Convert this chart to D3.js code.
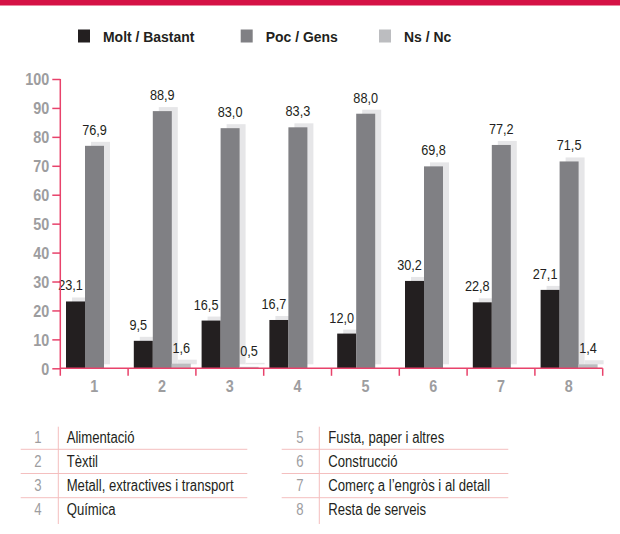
<!DOCTYPE html>
<html>
<head>
<meta charset="utf-8">
<script src="https://cdn.jsdelivr.net/npm/d3@7"></script>
<style>
  html, body { margin: 0; padding: 0; background: #fff; }
  svg { display: block; }
</style>
</head>
<body>
<svg id="chart" width="620" height="534"></svg>
<script>
// Sector codes along the x axis
const categories = ["1", "2", "3", "4", "5", "6", "7", "8"];

// Answer groups
const seriesNames = ["Molt / Bastant", "Poc / Gens", "Ns / Nc"];
const moltBastant = [23.1, 9.5, 16.5, 16.7, 12.0, 30.2, 22.8, 27.1];
const pocGens     = [76.9, 88.9, 83.0, 83.3, 88.0, 69.8, 77.2, 71.5];
const nsNc        = [0,    1.6,  0.5,  0,    0,    0,    0,    1.4];

// Y axis ticks
const yTicks = [0, 10, 20, 30, 40, 50, 60, 70, 80, 90, 100];

// Sector names for the key table
const sectorNames = [
  "Alimentació",
  "Tèxtil",
  "Metall, extractives i transport",
  "Química",
  "Fusta, paper i altres",
  "Construcció",
  "Comerç a l’engròs i al detall",
  "Resta de serveis"
];

const seriesValues = [moltBastant, pocGens, nsNc];
const colors = ["#231f20", "#808084", "#bcbdc0"];
const shadowColor = "#e6e6e8";
const axisColor = "#e8426b";
const tickTextColor = "#9d9d9f";
const font = "'Liberation Sans', Arial, Helvetica, sans-serif";
const narrow = 0.82;     // horizontal squeeze for condensed text
const boldNarrow = 0.9;  // lighter squeeze for the bold labels

const svg = d3.select("#chart");

// Top band
svg.append("rect").attr("x", 0).attr("y", 0).attr("width", 620).attr("height", 5.5)
  .attr("fill", "#d51245");

// Legend
const legendX = [78, 240.7, 379];
const legend = svg.append("g");
seriesNames.forEach((name, i) => {
  legend.append("rect").attr("x", legendX[i]).attr("y", 29.5)
    .attr("width", 12).attr("height", 13).attr("fill", colors[i]);
  legend.append("text")
    .attr("transform", `translate(${legendX[i] + 25},42) scale(${boldNarrow},1)`)
    .attr("font-family", font).attr("font-weight", "bold").attr("font-size", 15.5)
    .attr("fill", "#231f20").text(name);
});

// Scales
const x = d3.scaleBand().domain(categories).range([60.3, 602.7]).padding(0);
const inner = d3.scaleBand().domain(d3.range(seriesNames.length)).range([5.7, 5.7 + 57]).padding(0);
const y = d3.scaleLinear().domain([0, 100]).range([368.3, 79]);

const shadowDx = 6, shadowDy = -4;

// Bar data
const bars = [];
seriesValues.forEach((vals, s) => {
  vals.forEach((v, i) => bars.push({ s, cat: categories[i], v }));
});
const shown = bars.filter(d => d.v > 0);

// Shadows behind the bars
svg.append("g").selectAll("rect").data(shown).join("rect")
  .attr("x", d => x(d.cat) + inner(d.s) + shadowDx)
  .attr("y", d => y(d.v) + shadowDy)
  .attr("width", inner.bandwidth())
  .attr("height", d => y(0) - y(d.v))
  .attr("fill", shadowColor);

// Bars
svg.append("g").selectAll("rect").data(shown).join("rect")
  .attr("x", d => x(d.cat) + inner(d.s))
  .attr("y", d => y(d.v))
  .attr("width", inner.bandwidth())
  .attr("height", d => y(0) - y(d.v))
  .attr("fill", d => colors[d.s]);

// Value labels
const fmt = v => d3.format(".1f")(v).replace(".", ",");
svg.append("g").selectAll("text").data(shown).join("text")
  .attr("transform", d => {
    const lx = x(d.cat) + inner(d.s) + inner.bandwidth() / 2 + (d.s === 0 ? -5 : 0);
    return `translate(${lx},${y(d.v) - 11}) scale(${narrow},1)`;
  })
  .attr("text-anchor", "middle")
  .attr("font-family", font).attr("font-size", 15.5)
  .attr("fill", "#231f20")
  .text(d => fmt(d.v));

// Y axis
const yAxis = svg.append("g").attr("transform", `translate(${x.range()[0]},0)`)
  .call(d3.axisLeft(y).tickValues(yTicks).tickSize(8).tickPadding(3).tickFormat(d3.format("d")));
yAxis.select(".domain").remove();
yAxis.selectAll(".tick line").attr("stroke", axisColor).attr("stroke-width", 1.5);
yAxis.selectAll(".tick text")
  .attr("x", null)
  .attr("transform", `translate(-11,0) scale(${boldNarrow},1)`)
  .attr("font-family", font).attr("font-weight", "bold").attr("font-size", 16)
  .attr("fill", tickTextColor).attr("dy", "0.36em");
yAxis.append("line").attr("x1", 0).attr("x2", 0).attr("y1", y(100)).attr("y2", y(0) + 7.5)
  .attr("stroke", axisColor).attr("stroke-width", 1.5);

// X axis
const xAxis = svg.append("g");
xAxis.append("line").attr("x1", x.range()[0]).attr("x2", x.range()[1])
  .attr("y1", y(0)).attr("y2", y(0)).attr("stroke", axisColor).attr("stroke-width", 1.5);
const boundaries = categories.map(c => x(c)).concat([x.range()[1]]);
xAxis.selectAll("line.tk").data(boundaries.slice(1)).join("line").attr("class", "tk")
  .attr("x1", d => d).attr("x2", d => d).attr("y1", y(0)).attr("y2", y(0) + 7.5)
  .attr("stroke", axisColor).attr("stroke-width", 1.5);
xAxis.selectAll("text").data(categories).join("text")
  .attr("transform", d => `translate(${x(d) + x.bandwidth() / 2},391.7) scale(${boldNarrow},1)`)
  .attr("text-anchor", "middle")
  .attr("font-family", font).attr("font-weight", "bold").attr("font-size", 16)
  .attr("fill", tickTextColor).text(d => d);

// Key table
const tableLine = "#f4bfbf";
const columns = [
  { x0: 20.7, x1: 247.3, numX: 38, sepX: 58.3, textX: 66.7, items: [0, 1, 2, 3] },
  { x0: 281.7, x1: 508.3, numX: 300, sepX: 319.3, textX: 328.3, items: [4, 5, 6, 7] }
];
const rowH = 24.2, firstBase = 442.7, firstLine = 449.3;
const table = svg.append("g");
columns.forEach(col => {
  table.append("line").attr("x1", col.sepX).attr("x2", col.sepX)
    .attr("y1", 426.7).attr("y2", 524).attr("stroke", tableLine).attr("stroke-width", 1);
  col.items.forEach((idx, r) => {
    table.append("text")
      .attr("transform", `translate(${col.numX},${firstBase + r * rowH}) scale(${narrow},1)`)
      .attr("text-anchor", "middle").attr("font-family", font).attr("font-size", 16)
      .attr("fill", tickTextColor).text(categories[idx]);
    table.append("text")
      .attr("transform", `translate(${col.textX},${firstBase + r * rowH}) scale(${narrow},1)`)
      .attr("font-family", font).attr("font-size", 16)
      .attr("fill", "#231f20").text(sectorNames[idx]);
    if (r < col.items.length - 1) {
      table.append("line").attr("x1", col.x0).attr("x2", col.x1)
        .attr("y1", firstLine + r * rowH).attr("y2", firstLine + r * rowH)
        .attr("stroke", tableLine).attr("stroke-width", 1);
    }
  });
});
</script>
</body>
</html>
